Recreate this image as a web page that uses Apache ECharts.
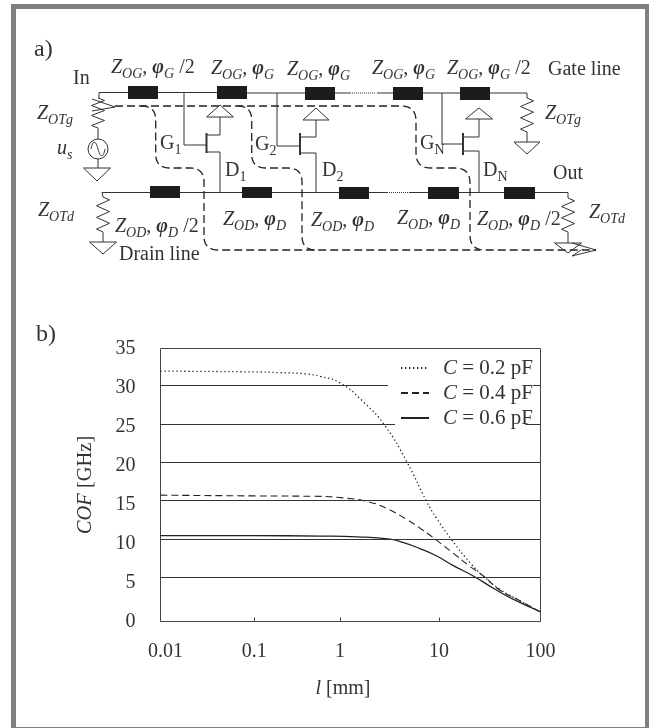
<!DOCTYPE html>
<html><head><meta charset="utf-8">
<style>html,body{margin:0;padding:0;background:#fff}#c{width:649px;height:728px}</style>
<script src="https://cdn.jsdelivr.net/npm/echarts@6/dist/echarts.min.js"></script>
</head><body><div id="c"></div>
<script>
// ---------- data ----------
const tickLabels = ['0.01', '0.1', '1', '10', '100'];
// The printed x axis has uneven decades: where each labelled tick sits, in nominal decades from the left
const decadeStops = [0, 0.987, 1.889, 2.931, 4];

const l02 = [0.01, 0.1, 0.2, 0.4, 0.6, 1, 1.71, 2.85, 4.7, 7.5, 9.5, 13.3, 21, 27, 40, 62, 100];
const cof02 = [32.1, 32, 31.9, 31.75, 31.4, 30.6, 28.2, 25.1, 20.55, 15.4, 13.2, 10.5, 7.3, 5.9, 4.1, 2.7, 1.2];
const l04 = [0.01, 0.1, 0.5, 1.17, 2, 2.96, 4.7, 6.9, 9.5, 13.7, 20, 27, 40, 62, 100];
const cof04 = [16.2, 16.1, 16.05, 15.8, 15.3, 14.5, 13.1, 11.7, 10.4, 8.8, 7.1, 5.9, 4, 2.7, 1.2];
const l06 = [0.01, 0.1, 0.6, 1.5, 3.2, 4.4, 6.4, 9.5, 13.7, 22, 34, 53, 100];
const cof06 = [11, 11, 10.95, 10.85, 10.55, 10.1, 9.35, 8.4, 7.2, 5.8, 4.3, 2.9, 1.25];

// Horizontal rules as printed (they sit slightly off the tick labels)
const ruleLevels = [30.26, 25.3, 20.4, 15.5, 10.5, 5.64];
// rules interrupted by the legend: [level, stops at l, resumes at l]
const ruleGaps = { 30.26: [3.06, 84], 25.3: [3.6, 71] };

// ---------- helpers ----------
function axisPos(l) {
  const d = Math.log10(l) + 2, i = Math.min(Math.floor(d), 3);
  return decadeStops[i] + (d - i) * (decadeStops[i + 1] - decadeStops[i]);
}
const zip = (xs, ys) => xs.map((x, i) => [axisPos(x), ys[i]]);

const INK = '#333';
const SERIF = '"Liberation Serif","Times New Roman",serif';
const measure = document.createElement('canvas').getContext('2d');
const g = [];

function line(points, extra) {
  g.push({ type: 'polyline', silent: true, shape: { points },
    style: Object.assign({ stroke: INK, lineWidth: 1, fill: null }, extra || {}) });
}
function box(x1, y1, x2, y2) {
  g.push({ type: 'rect', silent: true, shape: { x: x1, y: y1, width: x2 - x1, height: y2 - y1 }, style: { fill: '#1c1c1c' } });
}
function ground(cx, y, half, h) {
  g.push({ type: 'polygon', silent: true, shape: { points: [[cx - half, y], [cx + half, y], [cx, y + h]] },
    style: { fill: '#fff', stroke: INK, lineWidth: 1 } });
}
function triUp(cx, apexY, half, baseY) {
  g.push({ type: 'polygon', silent: true, shape: { points: [[cx, apexY], [cx + half, baseY], [cx - half, baseY]] },
    style: { fill: '#fff', stroke: INK, lineWidth: 1 } });
}
function zigzag(cx, y1, y2, amp) {
  const n = 6, pts = [[cx, y1]];
  for (let i = 0; i < n; i++) pts.push([cx + (i % 2 ? -amp : amp), y1 + (y2 - y1) * (i + 0.5) / n]);
  pts.push([cx, y2]);
  line(pts);
}
function rounded(points, r) {
  const out = [points[0]];
  for (let i = 1; i < points.length - 1; i++) {
    const p = points[i], a = points[i - 1], b = points[i + 1];
    const la = Math.hypot(a[0] - p[0], a[1] - p[1]), lb = Math.hypot(b[0] - p[0], b[1] - p[1]);
    const s = [p[0] + (a[0] - p[0]) * r / la, p[1] + (a[1] - p[1]) * r / la];
    const e = [p[0] + (b[0] - p[0]) * r / lb, p[1] + (b[1] - p[1]) * r / lb];
    for (let t = 0; t <= 1.0001; t += 0.1) {
      const u = 1 - t;
      out.push([u * u * s[0] + 2 * u * t * p[0] + t * t * e[0], u * u * s[1] + 2 * u * t * p[1] + t * t * e[1]]);
    }
  }
  out.push(points[points.length - 1]);
  return out;
}
const FONTS = {
  n: [20, 'normal normal', 0], i: [20, 'italic normal', 0], b: [20, 'italic bold', 0],
  si: [14, 'italic normal', 5], sn: [14, 'normal normal', 5], big: [24, 'normal normal', 0]
};
function text(x, base, parts) {
  parts.forEach(([t, k]) => {
    const [size, st, dy] = FONTS[k];
    const font = st + ' ' + size + 'px ' + SERIF;
    measure.font = font;
    g.push({ type: 'text', silent: true, style: { text: t, x, y: base + dy - size * 0.3, font, fill: INK, align: 'left', verticalAlign: 'middle' } });
    x += measure.measureText(t).width;
  });
}
const zLabel = (x, base, sub, phiSub, half) => text(x, base, [['Z', 'i'], [sub, 'si'], [', ', 'n'], ['φ', 'b'], [phiSub, 'si'], [half ? ' /2' : '', 'n']]);

// ---------- frame ----------
g.push({ type: 'rect', silent: true, z: -1, shape: { x: 13.5, y: 6.5, width: 634, height: 723 }, style: { fill: '#fff', stroke: '#808080', lineWidth: 5 } });

// ---------- circuit ----------
text(34, 57, [['a)', 'big']]);
text(36, 342, [['b)', 'big']]);
text(73, 85, [['In', 'n']]);
text(548, 76, [['Gate line', 'n']]);
text(119, 261, [['Drain line', 'n']]);
text(553, 180, [['Out', 'n']]);
zLabel(111, 74, 'OG', 'G', true);
zLabel(211, 75, 'OG', 'G');
zLabel(287, 76, 'OG', 'G');
zLabel(372, 75, 'OG', 'G');
zLabel(447, 75, 'OG', 'G', true);
zLabel(115, 233, 'OD', 'D', true);
zLabel(223, 226, 'OD', 'D');
zLabel(311, 227, 'OD', 'D');
zLabel(397, 225, 'OD', 'D');
zLabel(477, 226, 'OD', 'D', true);
text(37, 120, [['Z', 'i'], ['OTg', 'si']]);
text(545, 120, [['Z', 'i'], ['OTg', 'si']]);
text(38, 217, [['Z', 'i'], ['OTd', 'si']]);
text(589, 219, [['Z', 'i'], ['OTd', 'si']]);
text(57, 155, [['u', 'i'], ['s', 'si']]);
text(160, 150, [['G', 'n'], ['1', 'sn']]);
text(255, 151, [['G', 'n'], ['2', 'sn']]);
text(420, 150, [['G', 'n'], ['N', 'sn']]);
text(225, 177, [['D', 'n'], ['1', 'sn']]);
text(322, 177, [['D', 'n'], ['2', 'sn']]);
text(483, 177, [['D', 'n'], ['N', 'sn']]);

// gate line
line([[99, 92.5], [128, 92.5]]); line([[158, 92.5], [217, 92.5]]); line([[247, 93], [305, 93]]);
line([[335, 93], [351, 93]]); line([[352, 93], [376, 93]], { lineDash: [1, 1] }); line([[377, 93], [393, 93]]);
line([[423, 93], [460, 93]]); line([[490, 93], [527, 93], [527, 98]]);
box(128, 86, 158, 99); box(217, 86, 247, 99); box(305, 87, 335, 100); box(393, 87, 423, 100); box(460, 87, 490, 100);
// drain line
line([[102, 192.5], [150, 192.5]]); line([[180, 192.5], [242, 192.5]]); line([[272, 192.5], [339, 192.5]]);
line([[369, 192.5], [387, 192.5]]); line([[387, 192.5], [410, 192.5]], { lineDash: [1, 1] }); line([[410, 192.5], [428, 192.5]]);
line([[459, 192.5], [504, 192.5]]); line([[535, 192.5], [568, 192.5]]);
box(150, 186, 180, 198); box(242, 187, 272, 198); box(339, 187, 369, 199); box(428, 187, 459, 199); box(504, 187, 535, 199);
// transistors: feed x, gate y, bar x, source y, drain y, arm x, apex y, base y, half, bar top, bar bottom
[[184, 145, 206.5, 135, 152, 220, 105, 117, 13.5, 133, 153],
 [277, 146, 300, 137, 153, 316, 108, 120, 13, 133, 155],
 [442, 144, 463, 137, 151, 479, 108, 119, 13.5, 133, 155]].forEach(t => {
  const [fx, gy, bx, sy, dy, ax, apex, base, half, b1, b2] = t;
  line([[fx, 93], [fx, gy], [bx, gy]]);
  line([[bx, b1], [bx, b2]], { lineWidth: 2 });
  line([[bx, sy], [ax, sy], [ax, base]]);
  line([[bx, dy], [ax, dy], [ax, 192.5]]);
  triUp(ax, apex, half, base);
});
// terminations
line([[99, 92.5], [99, 98]]); zigzag(98, 98, 128, 6.5); line([[98, 128], [98, 139]]);
line([[92, 99], [115, 107], [92, 111]]);
g.push({ type: 'circle', silent: true, shape: { cx: 98, cy: 149, r: 10 }, style: { fill: '#fff', stroke: INK, lineWidth: 1 } });
g.push({ type: 'bezierCurve', silent: true, shape: { x1: 91, y1: 149, x2: 98, y2: 149, cpx1: 93, cpy1: 139, cpx2: 96, cpy2: 141 }, style: { stroke: INK, fill: null } });
g.push({ type: 'bezierCurve', silent: true, shape: { x1: 98, y1: 149, x2: 105, y2: 149, cpx1: 100, cpy1: 157, cpx2: 103, cpy2: 159 }, style: { stroke: INK, fill: null } });
line([[98, 159], [98, 168]]); ground(97, 168, 13.5, 13);
zigzag(527, 98, 132, 6.5); line([[527, 132], [527, 142]]); ground(527, 142, 13, 12);
line([[102, 192.5], [103, 197]]); zigzag(103, 197, 232, 6.5); line([[103, 232], [103, 242]]); ground(103, 242, 13.5, 12);
line([[568, 192.5], [568, 198]]); zigzag(568, 198, 232, 6.5); line([[568, 232], [568, 243]]); ground(568, 243, 13.5, 10);
line([[572, 243], [596, 250], [572, 256], [581, 250]]);
// dashed signal paths
const dash = { lineDash: [8, 4], lineWidth: 1.3, stroke: '#222' };
line(rounded([[115, 106], [416, 106], [416, 168], [470, 168], [470, 250], [596, 250]], 15), dash);
line(rounded([[141, 106], [155.7, 106], [155.7, 168], [204, 168], [204, 250], [480, 250]], 14), dash);
line(rounded([[238, 106], [251.7, 106], [251.7, 168], [302, 168], [302, 250], [318, 250]], 14), dash);

// ---------- chart ----------
const ruleData = [];
ruleLevels.forEach(v => {
  const gap = ruleGaps[v];
  if (gap) {
    ruleData.push([{ coord: [0, v] }, { coord: [axisPos(gap[0]), v] }]);
    ruleData.push([{ coord: [axisPos(gap[1]), v] }, { coord: [4, v] }]);
  } else {
    ruleData.push([{ coord: [0, v] }, { coord: [4, v] }]);
  }
});
const tickPositions = tickLabels.map(t => axisPos(parseFloat(t)));
const baseLine = { type: 'line', symbol: 'none', showSymbol: false, smooth: 0.5, silent: true, animation: false, z: 3 };

const chart = echarts.init(document.getElementById('c'), null, { renderer: 'canvas' });
chart.setOption({
  animation: false,
  backgroundColor: 'transparent',
  textStyle: { fontFamily: SERIF, color: INK },
  grid: { left: 160.5, top: 348.5, width: 380, height: 273, show: true, borderColor: '#444', borderWidth: 1, backgroundColor: 'transparent' },
  legend: {
    data: ['C = 0.2 pF', 'C = 0.4 pF', 'C = 0.6 pF'], orient: 'vertical', left: 400, top: 356.5, padding: 0,
    itemWidth: 28, itemHeight: 12, itemGap: 2, selectedMode: false,
    itemStyle: { color: 'transparent', borderWidth: 0, opacity: 0 },
    textStyle: { fontFamily: SERIF, fontSize: 21, color: INK, lineHeight: 23,
      rich: { i: { fontFamily: SERIF, fontStyle: 'italic', fontSize: 21, color: INK, padding: [0, 0, 0, 9] }, r: { fontFamily: SERIF, fontSize: 21, color: INK } } },
    formatter: n => '{i|C}{r| ' + n.slice(2) + '}'
  },
  xAxis: {
    type: 'value', min: 0, max: 4,
    name: '{i|l} [mm]', nameLocation: 'middle', nameGap: 57,
    nameTextStyle: { fontFamily: SERIF, fontSize: 20, color: INK, padding: [0, 15, 0, 0], rich: { i: { fontFamily: SERIF, fontStyle: 'italic', fontSize: 20, color: INK } } },
    axisLine: { show: false },
    axisTick: { show: true, inside: true, length: 4, customValues: tickPositions, lineStyle: { color: '#444' } },
    axisLabel: { show: true, customValues: tickPositions, margin: 20, fontSize: 20, fontFamily: SERIF, color: INK, hideOverlap: false,
      rich: { first: { fontFamily: SERIF, fontSize: 20, color: INK, padding: [0, 0, 0, 10] } },
      formatter: (v) => {
        const i = tickPositions.findIndex(p => Math.abs(p - v) < 1e-6);
        const t = tickLabels[i];
        return i === 0 ? '{first|' + t + '}' : t;
      } },
    splitLine: { show: false }
  },
  yAxis: {
    type: 'value', min: 0, max: 35, interval: 5,
    name: '{i|COF} [GHz]', nameLocation: 'middle', nameGap: 64,
    nameTextStyle: { fontFamily: SERIF, fontSize: 20.5, color: INK, rich: { i: { fontFamily: SERIF, fontStyle: 'italic', fontSize: 20.5, color: INK } } },
    axisLine: { show: false }, axisTick: { show: false },
    axisLabel: { margin: 25, fontSize: 20, fontFamily: SERIF, color: INK },
    splitLine: { show: false }
  },
  series: [
    { type: 'line', name: 'rules', data: [], silent: true, z: 2,
      markLine: { silent: true, animation: false, symbol: 'none', label: { show: false }, lineStyle: { type: 'solid', width: 1, color: '#333' }, data: ruleData } },
    Object.assign({}, baseLine, { name: 'C = 0.2 pF', data: zip(l02, cof02), lineStyle: { color: '#222', width: 1.3, type: [1.3, 2.7] }, itemStyle: { color: '#222' } }),
    Object.assign({}, baseLine, { name: 'C = 0.4 pF', data: zip(l04, cof04), lineStyle: { color: '#222', width: 1.1, type: [7, 4] }, itemStyle: { color: '#222' } }),
    Object.assign({}, baseLine, { name: 'C = 0.6 pF', data: zip(l06, cof06), lineStyle: { color: '#222', width: 1.3, type: 'solid' }, itemStyle: { color: '#222' } })
  ],
  graphic: { elements: g }
});
</script></body></html>
